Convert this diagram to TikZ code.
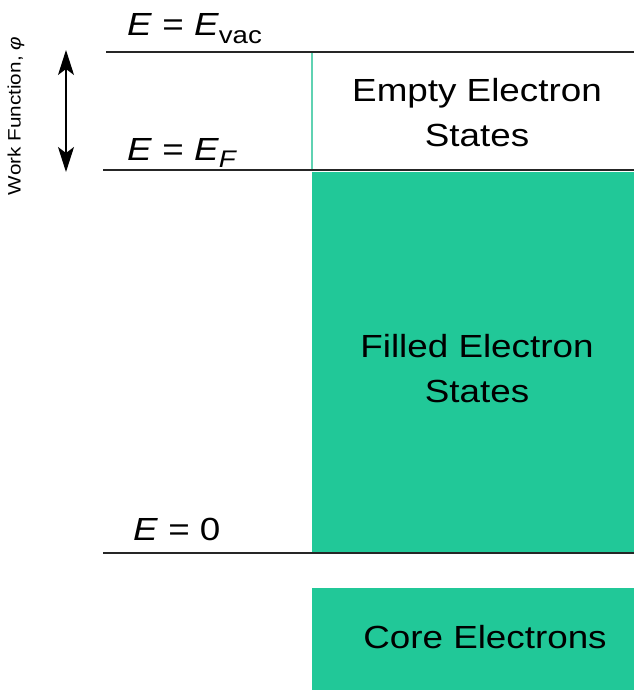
\documentclass[tikz,border=0pt]{standalone}
\usepackage{fontspec}
\setmainfont[FakeStretch=1.15]{Liberation Sans}
\usetikzlibrary{arrows.meta}
\definecolor{fillgreen}{RGB}{33,200,152}
\definecolor{edgegreen}{RGB}{95,210,178}
\tikzset{
  big/.style={font=\fontsize{32}{45}\selectfont, inner sep=0pt, align=center},
  level/.style={line width=1.3pt, black!85},
  band/.style={fill=fillgreen, draw=none},
  wfarrow/.style={{Stealth[length=25pt,width=16pt,inset=6pt]}-{Stealth[length=25pt,width=16pt,inset=6pt]}, line width=1.3pt},
}
\begin{document}
\begin{tikzpicture}[x=1pt,y=-1pt]
\useasboundingbox (0,0) rectangle (634,690);
% bands
\fill[band] (312,172) rectangle (634,553);
\fill[band] (312,588) rectangle (634,690);
\draw[edgegreen, line width=1.8pt] (312,53) -- (312,171);
% levels
\draw[level] (106,52) -- (634,52);
\draw[level] (103,170) -- (634,170);
\draw[level] (103,553) -- (634,553);
% labels
\node[big, anchor=base west] (evac) at (127,36) {\textit{E} = \textit{E}\raisebox{-0.22em}{\fontsize{24}{24}\selectfont vac}};
\node[big, anchor=base west] (ef) at (127,160) {\textit{E} = \textit{E}\raisebox{-0.22em}{\fontsize{24}{24}\selectfont\textit{F}}};
\node[big, anchor=base west] (ezero) at (133,540) {\textit{E} = 0};
\node[big] (empty) at (477,113) {Empty Electron\\States};
\node[big] (filled) at (477,369) {Filled Electron\\States};
\node[big] (core) at (485,637) {Core Electrons};
% work function
\coordinate (wtop) at (66,50);
\coordinate (wbot) at (66,172);
\draw[wfarrow] (wtop) -- (wbot);
\node[rotate=90, font=\fontsize{18}{18}\selectfont, inner sep=0pt] (wf) at (16,116) {Work Function, \textit{φ}};
\end{tikzpicture}
\end{document}
